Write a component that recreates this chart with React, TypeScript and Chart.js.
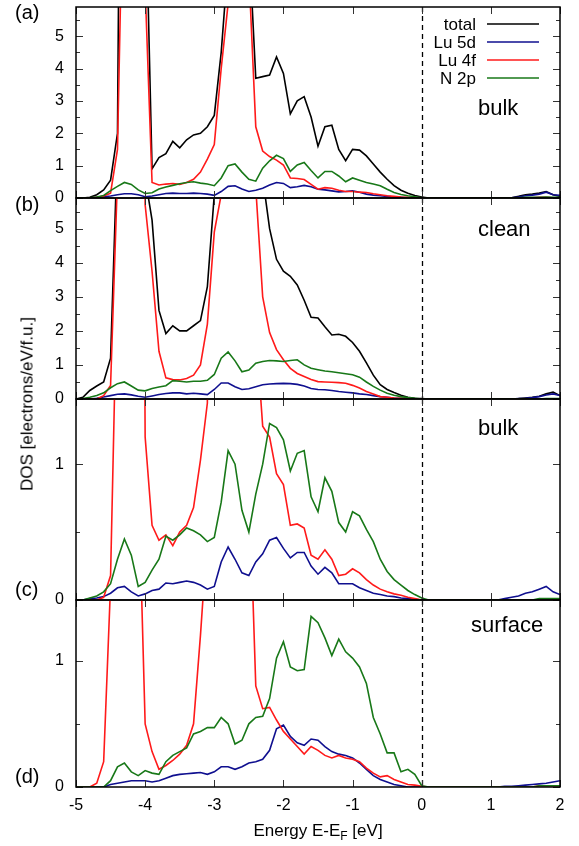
import React, { useEffect, useRef } from 'react';
import { Chart, registerables } from 'chart.js';
Chart.register(...registerables);

// ---------- data ----------
const energy = [
  -5.0, -4.9, -4.8, -4.7, -4.6, -4.5, -4.4, -4.3, -4.2, -4.1,
  -4.0, -3.9, -3.8, -3.7, -3.6, -3.5, -3.4, -3.3, -3.2, -3.1,
  -3.0, -2.9, -2.8, -2.7, -2.6, -2.5, -2.4, -2.3, -2.2, -2.1,
  -2.0, -1.9, -1.8, -1.7, -1.6, -1.5, -1.4, -1.3, -1.2, -1.1,
  -1.0, -0.9, -0.8, -0.7, -0.6, -0.5, -0.4, -0.3, -0.2, -0.1,
  0.0, 0.1, 0.2, 0.3, 0.4, 0.5, 0.6, 0.7, 0.8, 0.9,
  1.0, 1.1, 1.2, 1.3, 1.4, 1.5, 1.6, 1.7, 1.8, 1.9,
  2.0,
];

// (a) bulk
const totalA = [
  0, 0, 0.02, 0.1, 0.25, 0.55, 2.0, 30, 30, 30,
  10, 0.9, 1.25, 1.37, 1.75, 1.55, 1.8, 1.95, 2.0, 2.2,
  2.55, 4.5, 7.3, 30, 30, 8, 3.7, 3.75, 3.8, 4.36,
  3.85, 2.6, 3.0, 3.13, 2.5, 1.6, 2.2, 2.25, 1.5, 1.15,
  1.5, 1.48, 1.3, 1.05, 0.8, 0.58, 0.38, 0.24, 0.15, 0.08,
  0.03, 0, 0, 0, 0, 0, 0, 0, 0, 0,
  0, 0, 0, 0.01, 0.05, 0.1, 0.12, 0.15, 0.2, 0.1,
  0.05,
];
const lu5dA = [
  0, 0, 0, 0.02, 0.04, 0.06, 0.1, 0.13, 0.13, 0.1,
  0.04, 0.06, 0.1, 0.14, 0.15, 0.14, 0.14, 0.15, 0.14, 0.12,
  0.08, 0.2, 0.36, 0.38, 0.28, 0.2, 0.24, 0.3, 0.4, 0.48,
  0.45, 0.32, 0.35, 0.39, 0.35, 0.27, 0.25, 0.22, 0.19, 0.2,
  0.22, 0.18, 0.12, 0.09, 0.07, 0.05, 0.03, 0.02, 0.01, 0,
  0, 0, 0, 0, 0, 0, 0, 0, 0, 0,
  0, 0, 0, 0.01, 0.03, 0.07, 0.09, 0.12, 0.18, 0.1,
  0.08,
];
const lu4fA = [
  0, 0, 0, 0.02, 0.06, 0.15, 1.5, 12, 40, 30,
  6.5, 0.48, 0.4, 0.43, 0.45, 0.42, 0.48, 0.58, 0.8, 1.2,
  1.65, 4.0, 6.0, 40, 40, 7, 2.2, 1.45, 1.28, 1.17,
  1.02, 0.62, 0.6, 0.57, 0.42, 0.27, 0.32, 0.3, 0.24, 0.2,
  0.2, 0.18, 0.17, 0.13, 0.1, 0.07, 0.05, 0.03, 0.02, 0.01,
  0, 0, 0, 0, 0, 0, 0, 0, 0, 0,
  0, 0, 0, 0, 0, 0.01, 0.01, 0.02, 0.02, 0.01,
  0.01,
];
const n2pA = [
  0, 0, 0.01, 0.03, 0.08, 0.23, 0.36, 0.48, 0.42, 0.25,
  0.14, 0.16, 0.28, 0.34, 0.39, 0.44, 0.48, 0.5, 0.46, 0.43,
  0.38, 0.62, 1.0, 1.05, 0.8, 0.58, 0.52, 0.92, 1.15, 1.32,
  1.22, 0.82, 1.02, 1.1, 0.85, 0.62, 0.82, 0.82, 0.68, 0.5,
  0.62, 0.55, 0.48, 0.43, 0.38, 0.27, 0.17, 0.11, 0.07, 0.04,
  0.01, 0, 0, 0, 0, 0, 0, 0, 0, 0,
  0, 0, 0, 0, 0.01, 0.02, 0.02, 0.02, 0.03, 0.02,
  0.02,
];

// (b) clean
const totalB = [
  0, 0.05, 0.25, 0.38, 0.5, 1.2, 7.5, 30, 30, 30,
  6.5, 5.25, 2.6, 1.92, 2.15, 2.0, 2.0, 2.15, 2.3, 3.3,
  6.0, 30, 30, 30, 30, 30, 30, 6.5, 5.0, 4.1,
  3.75, 3.6, 3.35, 2.9, 2.4, 2.38, 2.12, 1.88, 1.9, 1.84,
  1.66, 1.4, 1.06, 0.7, 0.42, 0.28, 0.19, 0.11, 0.05, 0.02,
  0.01, 0, 0, 0, 0, 0, 0, 0, 0, 0,
  0, 0, 0, 0, 0.01, 0.03, 0.05, 0.08, 0.15, 0.2,
  0.1,
];
const lu5dB = [
  0, 0, 0, 0.02, 0.06, 0.1, 0.14, 0.15, 0.12, 0.08,
  0.05, 0.09, 0.13, 0.16, 0.18, 0.18, 0.15, 0.17, 0.15, 0.13,
  0.28, 0.47, 0.47, 0.36, 0.28, 0.3, 0.36, 0.42, 0.44, 0.45,
  0.46, 0.45, 0.43, 0.38, 0.31, 0.28, 0.27, 0.25, 0.22, 0.2,
  0.18, 0.15, 0.13, 0.1, 0.07, 0.05, 0.03, 0.02, 0.01, 0,
  0, 0, 0, 0, 0, 0, 0, 0, 0, 0,
  0, 0, 0, 0, 0.01, 0.02, 0.04, 0.07, 0.12, 0.15,
  0.1,
];
const lu4fB = [
  0, 0, 0, 0, 0.1, 0.4, 6.5, 30, 30, 30,
  5.7, 3.75, 1.4, 0.62, 0.57, 0.56, 0.6, 0.7, 1.0, 2.2,
  4.9, 6.0, 30, 30, 30, 30, 6.2, 3.0, 1.95, 1.45,
  1.15, 0.9, 0.75, 0.66, 0.57, 0.51, 0.5, 0.49, 0.48, 0.46,
  0.4, 0.32, 0.22, 0.15, 0.07, 0.05, 0.03, 0.02, 0.01, 0,
  0, 0, 0, 0, 0, 0, 0, 0, 0, 0,
  0, 0, 0, 0, 0, 0, 0, 0, 0, 0,
  0,
];
const n2pB = [
  0, 0.01, 0.05, 0.1, 0.18, 0.33, 0.45, 0.5, 0.38, 0.26,
  0.24, 0.31, 0.35, 0.39, 0.54, 0.52, 0.5, 0.52, 0.52, 0.55,
  0.72, 1.2, 1.38, 1.12, 0.8, 0.85, 1.05, 1.1, 1.13, 1.12,
  1.1, 1.13, 1.15, 1.0, 0.9, 0.86, 0.82, 0.8, 0.77, 0.74,
  0.71, 0.64, 0.5, 0.37, 0.26, 0.17, 0.11, 0.07, 0.04, 0.02,
  0, 0, 0, 0, 0, 0, 0, 0, 0, 0,
  0, 0, 0, 0, 0, 0, 0, 0, 0.01, 0.01,
  0.01,
];

// (c) bulk layer
const lu5dC = [
  0, 0, 0.01, 0.015, 0.025, 0.05, 0.09, 0.1, 0.06, 0.03,
  0.045, 0.07, 0.08, 0.125, 0.12, 0.13, 0.14, 0.13, 0.11, 0.08,
  0.1, 0.28, 0.39, 0.3, 0.2, 0.18, 0.28, 0.34, 0.44, 0.46,
  0.38, 0.31, 0.35, 0.35, 0.25, 0.19, 0.24, 0.2, 0.12, 0.12,
  0.12, 0.09, 0.07, 0.05, 0.04, 0.03, 0.025, 0.015, 0.01, 0.005,
  0, 0, 0, 0, 0, 0, 0, 0, 0, 0,
  0, 0, 0.01, 0.02, 0.03, 0.05, 0.06, 0.08, 0.1, 0.06,
  0.04,
];
const lu4fC = [
  0, 0, 0, 0, 0.02, 0.18, 2.5, 20, 20, 10,
  1.2, 0.55, 0.44, 0.48, 0.4, 0.5, 0.55, 0.68, 1.03, 1.45,
  20, 20, 20, 20, 20, 20, 2.0, 1.28, 1.2, 0.93,
  0.85, 0.55, 0.56, 0.53, 0.33, 0.3, 0.37, 0.3, 0.18, 0.19,
  0.23, 0.2, 0.15, 0.11, 0.08, 0.06, 0.045, 0.035, 0.02, 0.01,
  0, 0, 0, 0, 0, 0, 0, 0, 0, 0,
  0, 0, 0, 0, 0, 0, 0, 0, 0, 0,
  0,
];
const n2pC = [
  0, 0, 0.015, 0.03, 0.06, 0.12, 0.3, 0.45, 0.33, 0.1,
  0.13, 0.22, 0.3, 0.47, 0.44, 0.48, 0.53, 0.51, 0.48, 0.43,
  0.46, 0.72, 1.1, 1.0, 0.66, 0.5, 0.78, 1.0, 1.3, 1.27,
  1.18, 0.95, 1.08, 1.1, 0.76, 0.65, 0.9, 0.8, 0.57, 0.5,
  0.65, 0.62, 0.52, 0.43, 0.3, 0.21, 0.15, 0.11, 0.07, 0.04,
  0.015, 0, 0, 0, 0, 0, 0, 0, 0, 0,
  0, 0, 0, 0, 0, 0, 0, 0.01, 0.01, 0.01,
  0.01,
];

// (d) surface layer
const lu5dD = [
  0, 0, 0, 0, 0, 0.02, 0.03, 0.04, 0.05, 0.05,
  0.05, 0.04, 0.05, 0.07, 0.09, 0.1, 0.105, 0.11, 0.115, 0.1,
  0.12, 0.16, 0.16, 0.14, 0.16, 0.19, 0.2, 0.22, 0.29, 0.46,
  0.49, 0.4, 0.35, 0.33, 0.38, 0.37, 0.32, 0.28, 0.26, 0.25,
  0.23, 0.19, 0.14, 0.09, 0.06, 0.04, 0.02, 0.01, 0, 0,
  0, 0, 0, 0, 0, 0, 0, 0, 0, 0,
  0, 0, 0.005, 0.005, 0.01, 0.015, 0.02, 0.025, 0.03, 0.04,
  0.05,
];
const lu4fD = [
  0, 0, 0, 0.03, 0.2, 1.6, 20, 20, 20, 2.5,
  0.5, 0.28, 0.14, 0.17, 0.21, 0.26, 0.33, 0.5, 1.2, 2.0,
  20, 20, 20, 20, 20, 2.5, 0.8, 0.62, 0.63, 0.53,
  0.44, 0.38, 0.32, 0.26, 0.32, 0.29, 0.25, 0.23, 0.25, 0.23,
  0.22, 0.2, 0.15, 0.11, 0.08, 0.09, 0.06, 0.04, 0.02, 0.015,
  0.005, 0, 0, 0, 0, 0, 0, 0, 0, 0,
  0, 0, 0, 0, 0, 0, 0, 0.01, 0.01, 0.01,
  0.01,
];
const n2pD = [
  0, 0, 0, 0, 0, 0.05, 0.16, 0.19, 0.12, 0.09,
  0.13, 0.11, 0.1, 0.2, 0.25, 0.28, 0.31, 0.42, 0.44, 0.47,
  0.47, 0.55, 0.5, 0.34, 0.37, 0.5, 0.55, 0.56, 0.7, 1.02,
  1.15, 0.95, 0.92, 0.93, 1.35, 1.3, 1.18, 1.04, 1.17, 1.07,
  1.02, 0.95, 0.82, 0.55, 0.42, 0.27, 0.27, 0.12, 0.14, 0.1,
  0.01, 0, 0, 0, 0, 0, 0, 0, 0, 0,
  0, 0, 0, 0, 0, 0, 0, 0.01, 0.01, 0.01,
  0.01,
];

const xTickValues = [-5, -4, -3, -2, -1, 0, 1, 2];
const yMajorAB = [0, 1, 2, 3, 4, 5];
const yMinorAB = [0.5, 1.5, 2.5, 3.5, 4.5, 5.5];
const yMajorCD = [0, 1];
const yMinorCD = [0.5];
const legendLabels = ['total', 'Lu 5d', 'Lu 4f', 'N 2p'];
const panelLetters = ['(a)', '(b)', '(c)', '(d)'];
const panelNotes = ['bulk', 'clean', 'bulk', 'surface'];

// ---------- styling / layout ----------
const FONT = '"Liberation Sans", Arial, Helvetica, sans-serif';
const COLORS = { total: '#000000', lu5d: '#0f0f8f', lu4f: '#ff1a1a', n2p: '#187818' };
const W = 579;
const H = 846;
const PLOT_L = 76;
const PLOT_R = 560;

type Panel = {
  top: number; bottom: number; canvasTop: number; canvasBottom: number;
  yMax: number; majors: number[]; minors: number[];
  total: number[] | null; lu5d: number[]; lu4f: number[]; n2p: number[];
  legend: boolean; showX: boolean;
  letterBase: number; noteX: number; noteBase: number;
};

const panels: Panel[] = [
  { top: 7, bottom: 198, canvasTop: 0, canvasBottom: 214, yMax: 5.9, majors: yMajorAB, minors: yMinorAB,
    total: totalA, lu5d: lu5dA, lu4f: lu4fA, n2p: n2pA, legend: true, showX: false,
    letterBase: 19, noteX: 478, noteBase: 115 },
  { top: 198, bottom: 399, canvasTop: 186, canvasBottom: 412, yMax: 5.9, majors: yMajorAB, minors: yMinorAB,
    total: totalB, lu5d: lu5dB, lu4f: lu4fB, n2p: n2pB, legend: false, showX: false,
    letterBase: 211, noteX: 478, noteBase: 236 },
  { top: 399, bottom: 600, canvasTop: 387, canvasBottom: 612, yMax: 1.48, majors: yMajorCD, minors: yMinorCD,
    total: null, lu5d: lu5dC, lu4f: lu4fC, n2p: n2pC, legend: false, showX: false,
    letterBase: 596, noteX: 478, noteBase: 435 },
  { top: 600, bottom: 787, canvasTop: 588, canvasBottom: 846, yMax: 1.48, majors: yMajorCD, minors: yMinorCD,
    total: null, lu5d: lu5dD, lu4f: lu4fD, n2p: n2pD, legend: false, showX: true,
    letterBase: 783, noteX: 471, noteBase: 632 },
];

function decoPlugin(p: Panel, idx: number) {
  return {
    id: 'deco' + idx,
    afterDatasetsDraw(chart: any) {
      const { ctx, chartArea: ca, scales } = chart;
      const xs = scales.x;
      const ys = scales.y;
      const off = p.canvasTop;
      ctx.save();
      // dashed Fermi level
      ctx.strokeStyle = '#000';
      ctx.lineWidth = 1.3;
      ctx.setLineDash([5, 4]);
      const x0 = Math.round(xs.getPixelForValue(0)) + 0.5;
      ctx.beginPath();
      ctx.moveTo(x0, ca.top);
      ctx.lineTo(x0, ca.bottom);
      ctx.stroke();
      ctx.setLineDash([]);
      // ticks
      ctx.lineWidth = 1;
      ctx.strokeStyle = '#333';
      ctx.beginPath();
      xTickValues.forEach((v) => {
        const px = Math.round(xs.getPixelForValue(v)) + 0.5;
        ctx.moveTo(px, ca.bottom); ctx.lineTo(px, ca.bottom - 7);
        ctx.moveTo(px, ca.top); ctx.lineTo(px, ca.top + 7);
      });
      p.majors.forEach((v) => {
        const py = Math.round(ys.getPixelForValue(v)) + 0.5;
        ctx.moveTo(ca.left, py); ctx.lineTo(ca.left + 7, py);
        ctx.moveTo(ca.right, py); ctx.lineTo(ca.right - 7, py);
      });
      p.minors.forEach((v) => {
        const py = Math.round(ys.getPixelForValue(v)) + 0.5;
        ctx.moveTo(ca.left, py); ctx.lineTo(ca.left + 4, py);
        ctx.moveTo(ca.right, py); ctx.lineTo(ca.right - 4, py);
      });
      ctx.stroke();
      // frame
      ctx.strokeStyle = '#000';
      ctx.lineWidth = 1.5;
      ctx.strokeRect(ca.left, ca.top, ca.right - ca.left, ca.bottom - ca.top);
      // legend
      ctx.fillStyle = '#000';
      if (p.legend) {
        const cols = [COLORS.total, COLORS.lu5d, COLORS.lu4f, COLORS.n2p];
        ctx.font = `17px ${FONT}`;
        ctx.textAlign = 'right';
        ctx.textBaseline = 'middle';
        legendLabels.forEach((lab, i) => {
          const y = 24 + i * 18 - off;
          ctx.fillStyle = '#000';
          ctx.fillText(lab, 476, y + 1);
          ctx.strokeStyle = cols[i];
          ctx.lineWidth = 1.6;
          ctx.beginPath();
          ctx.moveTo(487, y);
          ctx.lineTo(539, y);
          ctx.stroke();
        });
      }
      // note text
      ctx.fillStyle = '#000';
      ctx.textBaseline = 'alphabetic';
      ctx.textAlign = 'left';
      ctx.font = `22px ${FONT}`;
      ctx.fillText(panelNotes[idx], p.noteX, p.noteBase - off);
      // panel letter
      ctx.font = `20px ${FONT}`;
      ctx.fillText(panelLetters[idx], 15, p.letterBase - off);
      // x title on last panel
      if (p.showX) {
        ctx.font = `17px ${FONT}`;
        const t1 = 'Energy E-E';
        const t3 = ' [eV]';
        const w1 = ctx.measureText(t1).width;
        const w3 = ctx.measureText(t3).width;
        ctx.font = `12px ${FONT}`;
        const w2 = ctx.measureText('F').width;
        const cx = (PLOT_L + PLOT_R) / 2;
        const base = 836 - off;
        let sx = cx - (w1 + w2 + w3) / 2;
        ctx.font = `17px ${FONT}`;
        ctx.fillText(t1, sx, base);
        sx += w1;
        ctx.font = `12px ${FONT}`;
        ctx.fillText('F', sx, base + 4);
        sx += w2;
        ctx.font = `17px ${FONT}`;
        ctx.fillText(t3, sx, base);
      }
      ctx.restore();
    },
  };
}

function buildChart(canvas: HTMLCanvasElement, p: Panel, idx: number) {
  const datasets: any[] = [];
  const add = (label: string, arr: number[] | null, color: string) => {
    if (!arr) return;
    datasets.push({
      label,
      data: energy.map((e, i) => ({ x: e, y: arr[i] })),
      borderColor: color,
      backgroundColor: color,
      borderWidth: 1.6,
      pointRadius: 0,
      fill: false,
      tension: 0,
    });
  };
  // first dataset is drawn on top
  add('N 2p', p.n2p, COLORS.n2p);
  add('Lu 4f', p.lu4f, COLORS.lu4f);
  add('Lu 5d', p.lu5d, COLORS.lu5d);
  add('total', p.total, COLORS.total);

  const tickFont = { family: FONT, size: 16 };
  return new Chart(canvas, {
    type: 'line',
    data: { datasets },
    options: {
      animation: false,
      responsive: false,
      maintainAspectRatio: false,
      devicePixelRatio: 1,
      events: [],
      layout: {
        padding: {
          left: 0,
          right: W - PLOT_R,
          top: p.top - p.canvasTop,
          bottom: p.showX ? 0 : p.canvasBottom - p.bottom,
        },
      },
      plugins: { legend: { display: false }, tooltip: { enabled: false }, title: { display: false } },
      scales: {
        x: {
          type: 'linear',
          min: -5,
          max: 2,
          display: p.showX,
          grid: { display: false, drawTicks: false },
          border: { display: false },
          ticks: { stepSize: 1, font: tickFont, color: '#000', padding: 9, maxRotation: 0, autoSkip: false },
          afterFit: (s: any) => {
            s.height = p.showX ? p.canvasBottom - p.bottom : 0;
            s.paddingLeft = 0; s.paddingRight = 0; s.paddingTop = 0; s.paddingBottom = 0;
          },
        },
        y: {
          type: 'linear',
          min: 0,
          max: p.yMax,
          grid: { display: false, drawTicks: false },
          border: { display: false },
          ticks: { stepSize: 1, includeBounds: false, font: tickFont, color: '#000', padding: 12 },
          afterFit: (s: any) => {
            s.width = PLOT_L;
            s.paddingLeft = 0; s.paddingRight = 0; s.paddingTop = 0; s.paddingBottom = 0;
          },
        },
      },
    } as any,
    plugins: [decoPlugin(p, idx)],
  });
}

export default function App() {
  const refs = useRef<(HTMLCanvasElement | null)[]>([]);
  useEffect(() => {
    const charts = panels.map((p, i) => buildChart(refs.current[i] as HTMLCanvasElement, p, i));
    return () => charts.forEach((c) => c.destroy());
  }, []);
  return (
    <div style={{ position: 'absolute', left: 0, top: 0, width: W, height: H, background: '#fff', overflow: 'hidden' }}>
      {panels.map((p, i) => (
        <canvas
          key={i}
          ref={(el) => { refs.current[i] = el; }}
          width={W}
          height={p.canvasBottom - p.canvasTop}
          style={{ position: 'absolute', left: 0, top: p.canvasTop, width: W, height: p.canvasBottom - p.canvasTop }}
        />
      ))}
      <div
        style={{
          position: 'absolute', left: 27, top: 404, transform: 'translate(-50%, -50%) rotate(-90deg)',
          fontFamily: FONT, fontSize: 17, lineHeight: '17px', whiteSpace: 'nowrap', color: '#000',
        }}
      >
        DOS [electrons/eV/f.u.]
      </div>
    </div>
  );
}
